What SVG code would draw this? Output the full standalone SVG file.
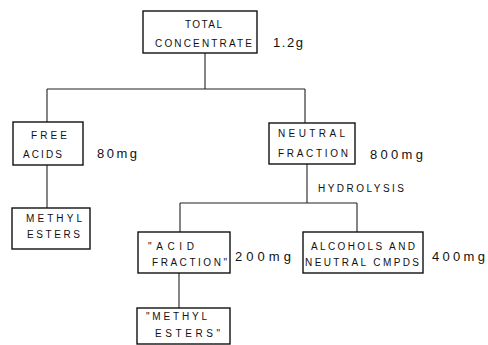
<svg xmlns="http://www.w3.org/2000/svg" width="488" height="345" viewBox="0 0 488 345">
<style>
.box{fill:none;stroke:#111;stroke-width:1.4}
.c{fill:none;stroke:#222;stroke-width:1.1}
.t{font-family:"Liberation Sans",Arial,sans-serif;font-size:10px;fill:#111}
.n{font-family:"Liberation Sans",Arial,sans-serif;font-size:13px;fill:#111}
</style>
<rect width="488" height="345" fill="#fff"/>
<g id="connectors">
<path class="c" d="M205 53V89M47 89H305M47 89V122M305 89V123"/>
<path class="c" d="M47 165V208"/>
<path class="c" d="M307 164V203M180 203H357M180 203V232M357 203V232"/>
<path class="c" d="M179 273V308"/>
</g>
<g id="total">
<rect class="box" x="143" y="11" width="114" height="42"/>
<text class="t" x="185" y="28" textLength="37" lengthAdjust="spacing">TOTAL</text>
<text class="t" x="155" y="47" textLength="97" lengthAdjust="spacing">CONCENTRATE</text>
<text class="n" x="273" y="47" textLength="30" lengthAdjust="spacing">1.2g</text>
</g>
<g id="free-acids">
<rect class="box" x="13" y="122" width="70" height="43"/>
<text class="t" x="31" y="139" textLength="36" lengthAdjust="spacing">FREE</text>
<text class="t" x="23" y="158" textLength="39" lengthAdjust="spacing">ACIDS</text>
<text class="n" x="97" y="158" textLength="40" lengthAdjust="spacing">80mg</text>
</g>
<g id="methyl-esters">
<rect class="box" x="12" y="208" width="78" height="41"/>
<text class="t" x="26" y="222" textLength="56" lengthAdjust="spacing">METHYL</text>
<text class="t" x="27" y="238" textLength="53" lengthAdjust="spacing">ESTERS</text>
</g>
<g id="neutral-fraction">
<rect class="box" x="269" y="123" width="86" height="41"/>
<text class="t" x="278" y="137" textLength="67" lengthAdjust="spacing">NEUTRAL</text>
<text class="t" x="278" y="157" textLength="70" lengthAdjust="spacing">FRACTION</text>
<text class="n" x="370" y="159" textLength="53" lengthAdjust="spacing">800mg</text>
<text class="t" x="318" y="192" textLength="86" lengthAdjust="spacing">HYDROLYSIS</text>
</g>
<g id="acid-fraction">
<rect class="box" x="138" y="232" width="92" height="41"/>
<text class="t" x="148" y="250" textLength="46" lengthAdjust="spacing">"ACID</text>
<text class="t" x="152" y="266" textLength="75" lengthAdjust="spacing">FRACTION"</text>
<text class="n" x="235" y="261" textLength="56" lengthAdjust="spacing">200mg</text>
</g>
<g id="alcohols">
<rect class="box" x="303" y="232" width="120" height="41"/>
<text class="t" x="311" y="250" textLength="104" lengthAdjust="spacing">ALCOHOLS AND</text>
<text class="t" x="305" y="266" textLength="114" lengthAdjust="spacing">NEUTRAL CMPDS</text>
<text class="n" x="432" y="261" textLength="53" lengthAdjust="spacing">400mg</text>
</g>
<g id="methyl-esters-2">
<rect class="box" x="137" y="308" width="93" height="36"/>
<text class="t" x="146" y="320" textLength="61" lengthAdjust="spacing">"METHYL</text>
<text class="t" x="155" y="337" textLength="65" lengthAdjust="spacing">ESTERS"</text>
</g>
</svg>
